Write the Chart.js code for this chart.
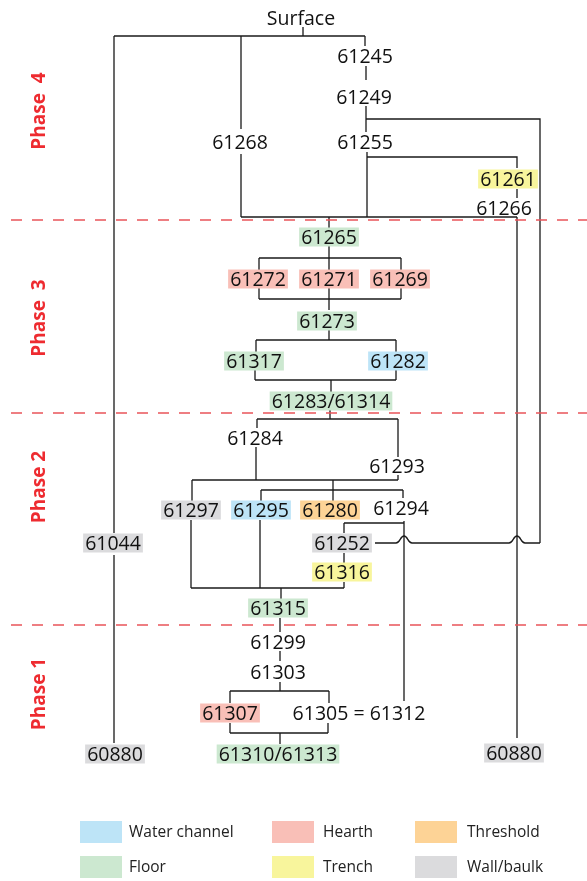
<!DOCTYPE html>
<html>
<head>
<meta charset="utf-8">
<script src="https://cdn.jsdelivr.net/npm/chart.js@4/dist/chart.umd.min.js"></script>
<style>
  html, body { margin: 0; padding: 0; background: #ffffff; }
  #wrap { width: 587px; height: 881px; position: relative; }
</style>
</head>
<body>
<div id="wrap"><canvas id="c" width="587" height="881"></canvas></div>
<script>
// ---------- DATA ----------
// Context nodes (Harris matrix units)
const nodeLabels = ["Surface","61245","61249","61255","61268","61261","61266","61265",
  "61272","61271","61269","61273","61317","61282","61283/61314","61284","61293",
  "61297","61295","61280","61294","61044","61252","61316","61315","61299","61303",
  "61307","61305 = 61312","61310/61313","60880","60880"];
const nodeX = [301,365,364,365,240,508,504,329, 258,329,400,327,254,398,331,255,397,
  191,261,330,401,113,342,342,278,278,278, 230,359,278,115,514];
const nodeY = [18,56,97,142,142,179,208,237, 279,279,279,321,361,361,401,438,466,
  510,510,510,508,543,543,572,608,642,672, 713,713,754,754,753];
const nodeType = ["","","","","","trench","","floor", "hearth","hearth","hearth","floor","floor","water","floor","","",
  "wall","water","threshold","","wall","wall","trench","floor","","", "hearth","","floor","wall","wall"];

// Category legend
const legendKeys = ["water","hearth","threshold","floor","trench","wall"];
const legendLabels = ["Water channel","Hearth","Threshold","Floor","Trench","Wall/baulk"];
const legendColors = ["#BDE4F7","#F9BFB7","#FDD396","#CCE8D0","#F8F59C","#DBDBDD"];

// Phases
const phaseLabels = ["Phase  4","Phase  3","Phase 2","Phase 1"];
const phaseCentreY = [111,318,487,694];
const phaseBoundaryY = [220,413,625];

// Stratigraphic links (polylines in diagram units)
const links = [
  [[303,27],[303,36]],
  [[114,36],[365,36]],
  [[114,36],[114,533]], [[114,555],[114,743]],
  [[241,36],[241,129]], [[241,154],[241,217]],
  [[365,36],[365,46]],
  [[366,66],[366,80]],
  [[366,106],[366,132]], [[366,119],[540,119],[540,543]],
  [[367,152],[367,217]], [[367,157],[517,157],[517,168]],
  [[517,189],[517,198]],
  [[241,217],[517,217]], [[517,217],[517,738]],
  [[329,217],[329,228]],
  [[329,246],[329,258]], [[259,258],[401,258]],
  [[259,258],[259,270]], [[401,258],[401,270]], [[329,258],[329,270]],
  [[259,288],[259,299]], [[401,288],[401,299]], [[259,299],[401,299]], [[329,288],[329,310]],
  [[329,330],[329,340]], [[256,340],[396,340]], [[256,340],[256,352]], [[396,340],[396,352]],
  [[255,370],[255,380]], [[396,370],[396,380]], [[255,380],[396,380]], [[331,380],[331,392]],
  [[330,410],[330,419]], [[257,419],[398,419]], [[257,419],[257,428]], [[398,419],[398,457]],
  [[256,447],[256,480]], [[398,475],[398,480]], [[192,480],[398,480]],
  [[192,480],[192,501]], [[333,480],[333,501]],
  [[261,490],[403,490]], [[261,490],[261,501]], [[403,490],[403,498]],
  [[191,520],[191,588]], [[260,520],[260,588]], [[191,588],[344,588]], [[344,582],[344,588]],
  [[404,521],[404,701]], [[344,523],[404,523]], [[344,523],[344,533]],
  [[344,553],[344,563]],
  [[281,588],[281,599]],
  [[280,618],[280,632]],
  [[280,651],[280,661]],
  [[280,682],[280,691]], [[230,691],[329,691]], [[230,691],[230,703]], [[329,691],[329,703]],
  [[230,723],[230,733]], [[328,723],[328,733]], [[230,733],[328,733]], [[280,733],[280,744]]
];
// Link from 61252 to the 61249 branch, hopping over the crossed lines
const hopLine = [[375,543],[540,543]];
const hopAt = [404,517];

// ---------- CHART ----------
const colorOf = {};
legendKeys.forEach((k,i)=>colorOf[k]=legendColors[i]);
const LINE = '#1a1a1a';
const NUMFONT = '"Open Sans", "Liberation Sans", sans-serif';

const datasets = [];
phaseBoundaryY.forEach(y => datasets.push({
  data: [{x:11,y:y},{x:587,y:y}], showLine:true, pointRadius:0,
  borderColor:'#E9545A', borderWidth:1.5, borderDash:[11,10]
}));
links.forEach(pl => datasets.push({
  data: pl.map(p=>({x:p[0],y:p[1]})), showLine:true, pointRadius:0,
  borderColor:LINE, borderWidth:1.3, borderCapStyle:'butt'
}));

const diagramPlugin = {
  id:'diagram',
  afterDatasetsDraw(chart){
    const ctx = chart.ctx, xs = chart.scales.x, ys = chart.scales.y;
    const X = v=>xs.getPixelForValue(v), Y = v=>ys.getPixelForValue(v);
    ctx.save();
    // hop line
    ctx.strokeStyle = LINE; ctx.lineWidth = 1.3;
    ctx.beginPath();
    const y0 = Y(hopLine[0][1]);
    ctx.moveTo(X(hopLine[0][0]), y0);
    const r = 8;
    hopAt.forEach(hx=>{
      const px = X(hx);
      ctx.lineTo(px - r, y0);
      ctx.bezierCurveTo(px - r*0.45, y0, px - r*0.5, y0 - 7, px, y0 - 7);
      ctx.bezierCurveTo(px + r*0.5, y0 - 7, px + r*0.45, y0, px + r, y0);
    });
    ctx.lineTo(X(hopLine[1][0]), y0);
    ctx.stroke();

    // nodes
    const fs = 19.5;
    ctx.font = fs + 'px ' + NUMFONT;
    ctx.textAlign = 'center';
    ctx.textBaseline = 'alphabetic';
    nodeLabels.forEach((lab,i)=>{
      const cx = X(nodeX[i]), cy = Y(nodeY[i]);
      const w = ctx.measureText(lab).width;
      const t = nodeType[i];
      if (t) {
        ctx.fillStyle = colorOf[t];
        ctx.fillRect(cx - w/2 - 2, cy - 9.5, w + 4, 19);
      }
      ctx.fillStyle = '#111';
      ctx.fillText(lab, cx, cy + 0.357*fs);
    });

    // phase labels
    ctx.font = 'bold 19px ' + NUMFONT;
    ctx.fillStyle = '#EE2B30';
    ctx.textBaseline = 'middle';
    phaseLabels.forEach((p,i)=>{
      ctx.save();
      ctx.translate(X(40), Y(phaseCentreY[i]));
      ctx.rotate(-Math.PI/2);
      ctx.fillText(p, 0, 0);
      ctx.restore();
    });

    // legend
    const colX = [80, 272, 415], textX = [129, 323, 467], rowY = [832, 867];
    ctx.font = '15.5px ' + NUMFONT;
    ctx.textAlign = 'left';
    legendLabels.forEach((l,i)=>{
      const c = i % 3, rr = Math.floor(i/3);
      ctx.fillStyle = legendColors[i];
      ctx.fillRect(X(colX[c]), Y(rowY[rr]) - 11, 42, 22);
      ctx.fillStyle = '#222';
      ctx.fillText(l, X(textX[c]), Y(rowY[rr]) + 1);
    });
    ctx.restore();
  }
};

new Chart(document.getElementById('c'), {
  type:'scatter',
  data:{ datasets },
  options:{
    responsive:false, animation:false, devicePixelRatio:1,
    layout:{ padding:0 },
    plugins:{ legend:{display:false}, tooltip:{enabled:false} },
    scales:{
      x:{ type:'linear', min:0, max:587, display:false },
      y:{ type:'linear', min:0, max:881, reverse:true, display:false }
    },
    elements:{ line:{ tension:0 } }
  },
  plugins:[diagramPlugin]
});
</script>
</body>
</html>
